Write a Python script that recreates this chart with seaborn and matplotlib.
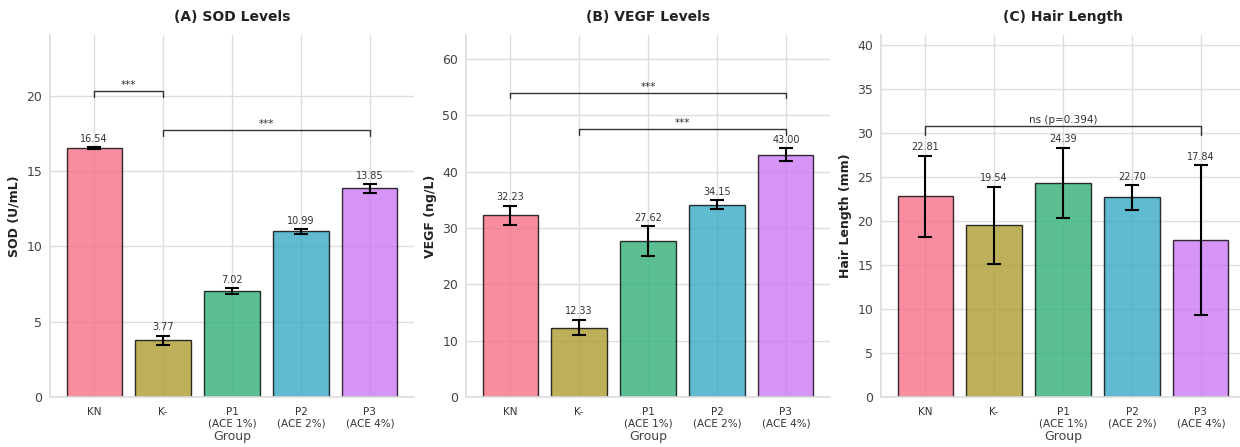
import numpy as np
import pandas as pd
import seaborn as sns
import matplotlib.pyplot as plt

groups = ["KN", "K-", "P1\n(ACE 1%)", "P2\n(ACE 2%)", "P3\n(ACE 4%)"]

sod_mean = [16.54, 3.77, 7.02, 10.99, 13.85]
sod_err = [0.05, 0.30, 0.20, 0.15, 0.28]

vegf_mean = [32.23, 12.33, 27.62, 34.15, 43.00]
vegf_err = [1.70, 1.40, 2.65, 0.80, 1.15]

hair_mean = [22.81, 19.54, 24.39, 22.70, 17.84]
hair_err = [4.65, 4.36, 3.98, 1.40, 8.50]

# brackets: (left group, right group, height, label)
sod_brackets = [(0, 1, 20.3, "***"), (1, 4, 17.75, "***")]
vegf_brackets = [(0, 4, 54.0, "***"), (1, 4, 47.5, "***")]
hair_brackets = [(0, 4, 30.8, "ns (p=0.394)")]

sns.set_theme(style="whitegrid")
plt.rcParams['font.family'] = ['DejaVu Sans']
colors = sns.color_palette("husl", 5)

fig = plt.figure(figsize=(12.4, 4.47), dpi=100)
positions = [
    [50 / 1240, 0.112, 364 / 1240, 0.81],
    [466 / 1240, 0.112, 364 / 1240, 0.81],
    [881 / 1240, 0.112, 364 / 1240, 0.81],
]

panels = [
    ("(A) SOD Levels", "SOD (U/mL)", sod_mean, sod_err, sod_brackets, 24.05, 0.4, [0, 5, 10, 15, 20]),
    ("(B) VEGF Levels", "VEGF (ng/L)", vegf_mean, vegf_err, vegf_brackets, 64.3, 1.0, [0, 10, 20, 30, 40, 50, 60]),
    ("(C) Hair Length", "Hair Length (mm)", hair_mean, hair_err, hair_brackets, 41.2, 1.0, [0, 5, 10, 15, 20, 25, 30, 35, 40]),
]

for pos, (title, ylab, mean, err, brackets, ymax, tick, yticks) in zip(positions, panels):
    ax = fig.add_axes(pos)
    df = pd.DataFrame({"Group": groups, "value": mean})
    sns.barplot(data=df, x="Group", y="value", hue="Group", palette=colors,
                saturation=1, alpha=0.8, edgecolor="black", linewidth=1, width=0.8,
                errorbar=None, legend=False, ax=ax)
    x = np.arange(len(groups))
    ax.errorbar(x, mean, yerr=err, fmt="none", ecolor="black",
                elinewidth=1.5, capsize=5, capthick=1.5, zorder=5)
    for xi, m, e in zip(x, mean, err):
        ax.text(xi, m + e + ymax * 0.01, f"{m:.2f}", ha="center", va="bottom",
                fontsize=7, color="#333333")
    for a, b, h, lab in brackets:
        ax.plot([a, a, b, b], [h - tick, h, h, h - tick], color="#333333", lw=1)
        ax.text((a + b) / 2, h + ymax * 0.003, lab, ha="center", va="bottom",
                fontsize=7.5, color="#333333")
    ax.set_xlim(-0.64, 4.64)
    ax.set_ylim(0, ymax)
    ax.set_yticks(yticks)
    ax.set_title(title, fontsize=10, fontweight="bold", pad=10, color="#222222")
    ax.set_ylabel(ylab, fontsize=9, fontweight="bold", color="#222222", labelpad=4)
    ax.set_xlabel("Group", fontsize=9, color="#444444", labelpad=1)
    ax.tick_params(axis="x", labelsize=7.5, length=0, pad=7, colors="#333333")
    ax.tick_params(axis="y", labelsize=9, length=0, pad=5.5, colors="#444444")
    ax.grid(True, color="#dddddd", lw=1)
    ax.set_axisbelow(True)
    sns.despine(ax=ax, top=True, right=True)
    for s in ["left", "bottom"]:
        ax.spines[s].set_color("#dddddd")

fig.savefig("out.png", dpi=100)
